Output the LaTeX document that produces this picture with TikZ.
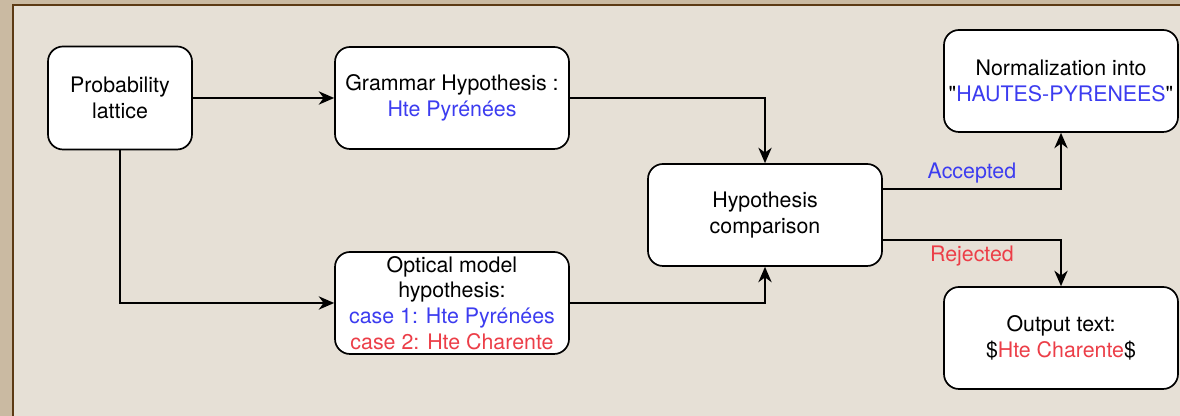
\documentclass[tikz,border=0pt]{standalone}
\usepackage{fontspec}
\setmainfont{TeX Gyre Heros}[Ligatures=TeXOff]
\usetikzlibrary{arrows.meta}
\definecolor{bleu}{RGB}{60,60,240}
\definecolor{rouge}{RGB}{236,62,72}
\definecolor{parchemin}{RGB}{230,224,214}
\definecolor{cadre}{RGB}{202,186,162}
\definecolor{brun}{RGB}{92,58,20}

\begin{document}
\begin{tikzpicture}
        % Styles pour les boîtes et les flèches
        \tikzstyle{arrow} = [line width=1.2pt,->,>={Stealth[length=11pt,width=9.5pt,inset=3.5pt]}]
        \tikzstyle{boite} = [draw, line width=1.2pt, fill=white, rounded corners=0.375cm,
            minimum width=5.85cm, minimum height=2.55cm, inner sep=1pt, align=center,
            font=\fontsize{15.2}{18.2}\selectfont]
        \tikzstyle{etiquette} = [font=\fontsize{15.2}{18.2}\selectfont]

        % Fond parchemin et cadre
        \useasboundingbox (0,0) rectangle (29.5,10.4);
        \fill[cadre] (0,0) rectangle (29.5,10.4);
        \fill[parchemin] (0.325,0) rectangle (29.5,10.275);
        \draw[brun, line width=1.6pt] (0.325,0) -- (0.325,10.275) -- (29.5,10.275);

        % Boîtes du schéma
        \node[boite, minimum width=3.6cm, minimum height=2.575cm] (lattice) at (3,7.95) {Probability\\lattice};
        \node[boite] (grammaire) at (11.3,7.95) {Grammar Hypothesis :\\\textcolor{bleu}{Hte Pyrénées}};
        \node[boite] (optique) at (11.3,2.825) {Optical model\\hypothesis:\\\textcolor{bleu}{case 1: Hte Pyrénées}\\\textcolor{rouge}{case 2: Hte Charente}};
        \node[boite] (hypo) at (19.125,5.025) {Hypothesis\\comparison};
        \node[boite] (norme) at (26.525,8.375) {Normalization into\\"\textcolor{bleu}{HAUTES-PYRENEES}"};
        \node[boite] (sortie) at (26.525,1.95) {Output text:\\\$\textcolor{rouge}{Hte Charente}\$};

        % Flèches entre les boîtes
        \draw[arrow] (lattice) -- (grammaire);
        \draw[arrow] (lattice.south) |- (optique.west);
        \draw[arrow] (grammaire.east) -| (hypo.north);
        \draw[arrow] (optique.east) -| (hypo.south);
        \draw[arrow] ([yshift=0.65cm]hypo.east) -| node[etiquette, pos=0.25, above, text=bleu] {Accepted} (norme.south);
        \draw[arrow] ([yshift=-0.625cm]hypo.east) -| node[etiquette, pos=0.25, below, text=rouge] {Rejected} (sortie.north);

\end{tikzpicture}
\end{document}
